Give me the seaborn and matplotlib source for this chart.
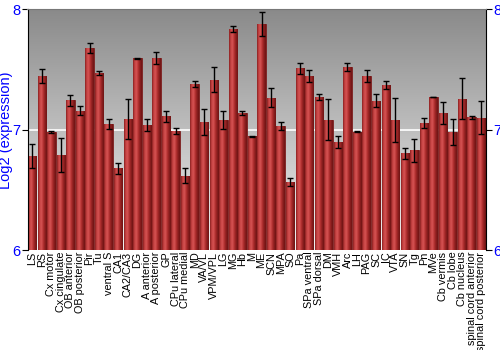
import numpy as np
import pandas as pd
import matplotlib
matplotlib.use("Agg")
import matplotlib.pyplot as plt
import seaborn as sns
from matplotlib.colors import LinearSegmentedColormap

regions = ["LS", "RS", "Cx motor", "Cx cingulate", "OB anterior", "OB posterior", "Pir", "Tu",
           "ventral S", "CA1", "CA2/CA3", "DG", "A anterior", "A posterior", "GP", "CPu lateral",
           "CPu medial", "MD", "VA/VL", "VPM/VPL", "LG", "MG", "Hb", "M", "ME", "SCN", "MPA", "SO",
           "Pa", "SPa ventral", "SPa dorsal", "DM", "VMH", "Arc", "LH", "PAG", "SC", "IC", "VTA",
           "SN", "Tg", "Pn", "MVe", "Cb vermis", "Cb lobe", "Cb nucleus", "spinal cord anterior",
           "spinal cord posterior"]
expression = [6.785, 7.447, 6.983, 6.79, 7.246, 7.16, 7.682, 7.47,
              7.047, 6.68, 7.09, 7.594, 7.039, 7.594, 7.113, 6.99,
              6.62, 7.378, 7.066, 7.417, 7.083, 7.837, 7.138, 6.948, 7.878, 7.268, 7.033, 6.566,
              7.51, 7.447, 7.273, 7.083, 6.90, 7.522, 6.983, 7.445, 7.243, 7.373, 7.083,
              6.804, 6.83, 7.058, 7.273, 7.14, 6.983, 7.257, 7.105, 7.102]
error = [0.10, 0.06, 0.01, 0.14, 0.045, 0.04, 0.04, 0.017,
         0.04, 0.047, 0.17, 0.003, 0.05, 0.05, 0.047, 0.028,
         0.065, 0.025, 0.106, 0.106, 0.076, 0.026, 0.018, 0.005, 0.10, 0.08, 0.035, 0.036,
         0.046, 0.05, 0.025, 0.17, 0.05, 0.03, 0.005, 0.05, 0.057, 0.03, 0.18,
         0.047, 0.095, 0.04, 0.003, 0.095, 0.11, 0.17, 0.014, 0.137]
yticks = [6, 7, 8]

df = pd.DataFrame({"region": regions, "expr": expression, "err": error})

plt.rcParams["font.family"] = ["Liberation Sans", "DejaVu Sans"]

fig = plt.figure(figsize=(5, 3.5), dpi=100)
ax = fig.add_axes([0.055, 0.285, 0.917, 0.688])

# background gradient
bg = LinearSegmentedColormap.from_list("bg", ["#f2f2f2", "#8a8a8a"])
grad = np.linspace(0, 1, 256).reshape(-1, 1)
ax.imshow(grad, cmap=bg, aspect="auto", extent=(-0.5, len(regions) - 0.5, 8, 6),
          zorder=0)
ax.axhline(7, color="white", lw=1.2, zorder=0.5)

sns.barplot(data=df, x="region", y="expr", color="#b03434", width=0.88,
            edgecolor="#7a1c1c", linewidth=0.6, ax=ax, zorder=2)

bar_cmap = LinearSegmentedColormap.from_list(
    "bar", ["#8a2020", "#c84444", "#d45252", "#b23030", "#8a1e1e", "#6e1414"])
hgrad = np.linspace(0, 1, 64).reshape(1, -1)
xs = []
for p in ax.patches:
    x0, w = p.get_x(), p.get_width()
    h = p.get_height()
    xs.append(x0 + w / 2)
    im = ax.imshow(hgrad, cmap=bar_cmap, aspect="auto",
                   extent=(x0, x0 + w, 6, h), zorder=2.5)
    im.set_clip_path(p)

ax.errorbar(xs, df["expr"], yerr=df["err"], fmt="none", ecolor="black",
            elinewidth=1, capsize=2, capthick=1, zorder=3)

ax.set_xlim(-0.5, len(regions) - 0.5)
ax.set_ylim(6, 8)
ax.set_yticks(yticks)
ax.set_yticklabels([str(t) for t in yticks])
ax.tick_params(axis="y", colors="black", labelcolor="blue", labelsize=10.5,
               length=4, direction="out", right=True, labelright=True, pad=1)
ax.tick_params(axis="x", length=0, labelsize=7.8, rotation=90, pad=1)
ax.set_xlabel("")
ax.set_ylabel("Log2 (expression)", color="blue", fontsize=10.5)
ax.yaxis.set_label_coords(-0.031, 0.5)
for lbl in ax.get_xticklabels():
    lbl.set_verticalalignment("top")

ax.spines["top"].set_color("#777777")
ax.spines["bottom"].set_visible(False)
ax.spines["left"].set_color("black")
ax.spines["right"].set_color("black")

fig.savefig("out.png", dpi=100)
